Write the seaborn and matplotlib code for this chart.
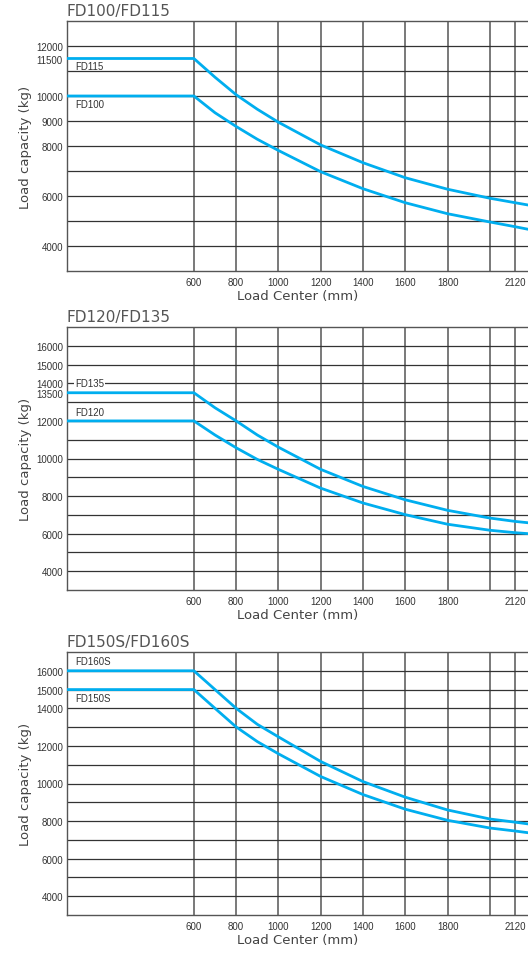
import matplotlib
matplotlib.use("Agg")
import matplotlib.pyplot as plt
import seaborn as sns
import numpy as np

sns.set_style("white")
plt.rcParams['font.family'] = ['Liberation Sans', 'DejaVu Sans']

# ---------------- data ----------------
load_center = [0, 600, 700, 800, 900, 1000, 1200, 1400, 1600, 1800, 2000, 2120, 2180]

fd115 = [11500, 11500, 10750, 10050, 9470, 8950, 8040, 7330, 6730, 6270, 5910, 5730, 5640]
fd100 = [10000, 10000, 9330, 8780, 8270, 7820, 6970, 6290, 5730, 5290, 4960, 4770, 4670]

fd135 = [13500, 13500, 12700, 12000, 11250, 10600, 9420, 8510, 7800, 7240, 6830, 6650, 6580]
fd120 = [12000, 12000, 11250, 10570, 9950, 9420, 8420, 7630, 7010, 6500, 6180, 6050, 6000]

fd160s = [16000, 16000, 15000, 14000, 13150, 12480, 11170, 10100, 9270, 8590, 8110, 7940, 7850]
fd150s = [15000, 15000, 14000, 13010, 12230, 11580, 10370, 9410, 8630, 8040, 7630, 7470, 7380]

x_ticks = [600, 800, 1000, 1200, 1400, 1600, 1800, 2000, 2120]
x_ticklabels = ['600', '800', '1000', '1200', '1400', '1600', '1800', '', '2120']

titles = ['FD100/FD115', 'FD120/FD135', 'FD150S/FD160S']
series = [(fd115, fd100), (fd135, fd120), (fd160s, fd150s)]
series_names = [('FD115', 'FD100'), ('FD135', 'FD120'), ('FD160S', 'FD150S')]
y_ticks = [
    [4000, 6000, 8000, 9000, 10000, 11500, 12000],
    [4000, 6000, 8000, 10000, 12000, 13500, 14000, 15000, 16000],
    [4000, 6000, 8000, 10000, 12000, 14000, 15000, 16000],
]
y_grid = [
    list(range(4000, 12001, 1000)),
    list(range(4000, 16001, 1000)),
    list(range(4000, 16001, 1000)),
]
y_limits = [(3000, 13000), (3000, 17000), (3000, 17000)]
x_limits = (0, 2180)

# ---------------- layout ----------------
W, H = 528, 954
fig = plt.figure(figsize=(W / 100, H / 100), dpi=100)
boxes = [(22, 272), (328, 591), (653, 916)]
left_px, right_px = 67, 528

line_color = '#00AEEF'
grid_col = '#333333'
text_col = '#444444'

label_pos = [
    [(0.017, 11180, 'center'), (0.017, 9700, 'center')],
    [(0.017, 14000, 'center'), (0.017, 12500, 'center')],
    [(0.017, 16520, 'center'), (0.017, 14550, 'center')],
]

for i in range(3):
    top, bot = boxes[i]
    ax = fig.add_axes([left_px / W, (H - bot) / H, (right_px - left_px) / W, (bot - top) / H])
    hi, lo = series[i]
    sns.lineplot(x=load_center, y=hi, ax=ax, color=line_color, linewidth=2.0, sort=False, zorder=3)
    sns.lineplot(x=load_center, y=lo, ax=ax, color=line_color, linewidth=2.0, sort=False, zorder=3)
    ax.set_xlim(*x_limits)
    ax.set_ylim(*y_limits[i])

    ax.set_xticks(x_ticks)
    ax.set_xticklabels(x_ticklabels)
    ax.set_yticks(y_ticks[i])
    ax.set_yticklabels([str(v) for v in y_ticks[i]])
    ax.yaxis.remove_overlapping_locs = False
    ax.set_yticks(y_grid[i], minor=True)
    ax.tick_params(axis='both', which='both', length=0, labelsize=7, colors='#333333')
    ax.tick_params(axis='x', pad=4)
    ax.tick_params(axis='y', pad=3)

    ax.grid(False)
    ax.xaxis.grid(True, which='major', color='#555555', linewidth=1.1)
    ax.yaxis.grid(True, which='minor', color=grid_col, linewidth=0.9)
    ax.set_axisbelow(True)

    for s in ['left', 'bottom', 'top']:
        ax.spines[s].set_color('#555555')
        ax.spines[s].set_linewidth(1.0)
    ax.spines['right'].set_visible(False)

    ax.set_ylabel('Load capacity (kg)', fontsize=9.5, color=text_col,
                  family=['DejaVu Sans'], labelpad=0)
    ax.yaxis.set_label_coords(-0.091, 0.5)
    ax.yaxis.label.set_va('center')
    ax.set_xlabel('Load Center (mm)', fontsize=9.5, color=text_col,
                  family=['DejaVu Sans'], labelpad=0)
    ax.xaxis.set_label_coords(0.5, -25 / (bot - top))
    ax.xaxis.label.set_va('center')

    ax.text(0.0, 1.0 + 3 / (bot - top), titles[i], transform=ax.transAxes,
            ha='left', va='bottom', fontsize=11, color='#555555',
            family=['DejaVu Sans'])

    for (fx, yv, va), name in zip(label_pos[i], series_names[i]):
        kw = {}
        if i == 1 and name == 'FD135':
            kw['bbox'] = dict(facecolor='white', edgecolor='none', pad=0.5)
        ax.text(fx, yv, name, transform=ax.get_yaxis_transform(), ha='left', va=va,
                fontsize=7, color='#333333', zorder=4, **kw)

fig.savefig('out.png', dpi=100)
